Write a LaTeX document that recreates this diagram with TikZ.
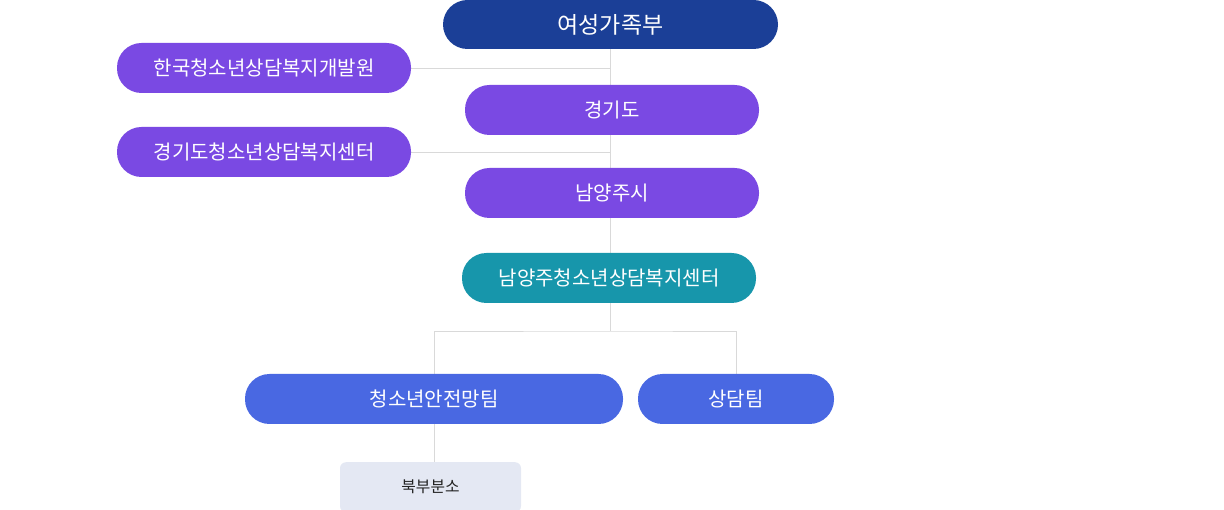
\documentclass[tikz,border=0pt]{standalone}
\usepackage{fontspec}
\setmainfont{Noto Sans CJK KR}
\usetikzlibrary{backgrounds,calc}
\definecolor{cdark}{HTML}{1B3F97}
\definecolor{cpurple}{HTML}{7A49E3}
\definecolor{cteal}{HTML}{1796AB}
\definecolor{cblue}{HTML}{4968E2}
\definecolor{clight}{HTML}{E4E8F3}
\definecolor{cline}{HTML}{D9D9D9}
\definecolor{ctext}{HTML}{222222}
\begin{document}
\begin{tikzpicture}[x=1pt,y=-1pt,
  pill/.style={rounded corners=24.5pt, inner sep=0pt, minimum height=50pt, text=white,
    font=\fontsize{20}{22}\selectfont},
  sub/.style={rounded corners=6pt, inner sep=0pt, fill=clight, text=ctext,
    minimum width=181pt, minimum height=50pt, font=\fontsize{15.8}{17}\selectfont},
  link/.style={draw=cline, line width=0.8pt}]
\useasboundingbox (0,0) rectangle (1224,510);
\node[pill, fill=cdark, minimum width=335pt, minimum height=49pt, font=\fontsize{23}{25}\selectfont] (top) at (610.5,24.5) {여성가족부};
\node[pill, fill=cpurple, minimum width=294pt] (kyci) at (264,68) {한국청소년상담복지개발원};
\node[pill, fill=cpurple, minimum width=294pt] (gg) at (612,110) {경기도};
\node[pill, fill=cpurple, minimum width=294pt] (ggc) at (264,152) {경기도청소년상담복지센터};
\node[pill, fill=cpurple, minimum width=294pt] (nyj) at (612,193) {남양주시};
\node[pill, fill=cteal, minimum width=294pt] (nyjc) at (609,278) {남양주청소년상담복지센터};
\node[pill, fill=cblue, minimum width=378pt] (safe) at (434,399) {청소년안전망팀};
\node[pill, fill=cblue, minimum width=196pt] (counsel) at (736,399) {상담팀};
\node[sub, anchor=north] (north) at (430.5,462) {북부분소};
\coordinate (j) at (610.5,331);
\begin{pgfonlayer}{background}
\draw[link] (top.south) -- (gg.north -| top.south);
\draw[link] (gg.south -| top.south) -- (nyj.north -| top.south);
\draw[link] (nyj.south -| top.south) -- (nyjc.north -| top.south);
\draw[link] (nyjc.south -| top.south) -- (j);
\draw[link] (kyci.east) -- (kyci.east -| top.south);
\draw[link] (ggc.east) -- (ggc.east -| top.south);
\draw[link] (safe.north) |- (j) -| (counsel.north);
\draw[link] (safe.south) -- (safe.south |- north.north);
\end{pgfonlayer}
\end{tikzpicture}
\end{document}
